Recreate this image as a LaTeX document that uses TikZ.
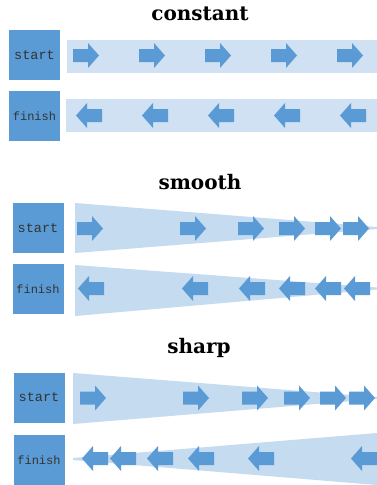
\documentclass[tikz,border=0pt]{standalone}
\usepackage{fontspec}
\newfontfamily\titlefont{DejaVu Serif}
\newfontfamily\labelfont{Liberation Mono}
\definecolor{boxblue}{HTML}{5B9BD5}
\definecolor{bandblue}{HTML}{C5DBF0}
\definecolor{bandlight}{HTML}{CFE1F2}
\begin{document}
\begin{tikzpicture}[x=1pt,y=-1pt,
  box/.style={fill=boxblue, minimum width=51pt, minimum height=50pt, inner sep=0pt, text=black!80},
  startlbl/.style={font=\labelfont\fontsize{13.5}{13.5}\selectfont},
  finishlbl/.style={font=\labelfont\fontsize{12}{12}\selectfont},
  band/.style={fill=bandlight, inner sep=0pt, minimum height=33pt},
  wedge/.style={fill=bandblue},
  title/.style={font=\titlefont\bfseries\fontsize{20}{20}\selectfont, anchor=base},
  rarrow/.pic={\fill[boxblue] (-13,-6.5) -- (2,-6.5) -- (2,-12.5) -- (13,0) -- (2,12.5) -- (2,6.5) -- (-13,6.5) -- cycle;},
  larrow/.pic={\fill[boxblue] (13,-6.5) -- (-2,-6.5) -- (-2,-12.5) -- (-13,0) -- (-2,12.5) -- (-2,6.5) -- (13,6.5) -- cycle;}
]
\useasboundingbox (0,0) rectangle (377,485);
\fill[white] (0,0) rectangle (377,485);

% ---------- constant ----------
\node[title] (tconst) at (200,20) {constant};
\node[box, startlbl] (cstart) at (34.5,55) {start};
\node[band, minimum width=310pt] (cband1) at (222,56.5) {};
\foreach \x in {86,152,218,284,350} \pic at (\x,55.5) {rarrow};
\node[box, finishlbl] (cfinish) at (34.5,116) {finish};
\node[band, minimum width=311pt] (cband2) at (221.5,115.5) {};
\foreach \x in {89,155,221,287,353} \pic at (\x,115.5) {larrow};

% ---------- smooth ----------
\node[title] (tsmooth) at (200,189) {smooth};
\node[box, startlbl] (sstart) at (38,228) {start};
\fill[wedge] (75,203) -- (377,227) -- (377,229) -- (75,253) -- cycle;
\foreach \x in {90,193,251,292,328,356} \pic at (\x,228.5) {rarrow};
\node[box, finishlbl] (sfinish) at (38,289) {finish};
\fill[wedge] (75,265) -- (377,287.5) -- (377,289.5) -- (75,316) -- cycle;
\foreach \x in {91,195,252,292,328,357} \pic at (\x,288.5) {larrow};

% ---------- sharp ----------
\node[title] (tsharp) at (199,353) {sharp};
\node[box, startlbl] (hstart) at (39,397.5) {start};
\fill[wedge] (73,373) -- (377,397) -- (377,399) -- (73,424) -- cycle;
\foreach \x in {93,196,255,297,333,362} \pic at (\x,398) {rarrow};
\node[box, finishlbl] (hfinish) at (39,460) {finish};
\fill[wedge] (73,458) -- (73,460) -- (377,485) -- (377,433) -- cycle;
\foreach \x in {95,123,160,201,261,364} \pic at (\x,458.5) {larrow};
\end{tikzpicture}
\end{document}
